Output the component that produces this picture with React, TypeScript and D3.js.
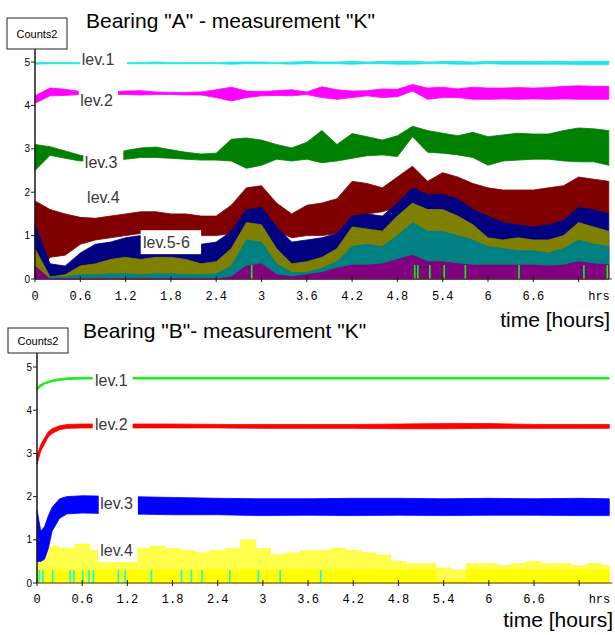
import * as d3 from "d3";

// sample times (hours) used for the envelopes
const hours = [0, 0.2, 0.4, 0.6, 0.8, 1, 1.2, 1.4, 1.6, 1.8, 2, 2.2, 2.4, 2.6, 2.8, 3, 3.2, 3.4, 3.6, 3.8, 4, 4.2, 4.4, 4.6, 4.8, 5, 5.2, 5.4, 5.6, 5.8, 6, 6.2, 6.4, 6.6, 6.8, 7, 7.2, 7.4, 7.6];
const hoursB = [0, 0.05, 0.1, 0.15, 0.2, 0.3, 0.4, 0.6, 1.2, 1.8, 2.4, 3, 3.6, 4.2, 4.8, 5.4, 6, 6.6, 7.2, 7.6];

// Bearing "A" (min / max envelopes)
const aLev1Lo = [4.95, 4.96, 4.96, 4.96, 4.96, 4.96, 4.96, 4.96, 4.96, 4.96, 4.96, 4.96, 4.96, 4.95, 4.96, 4.96, 4.96, 4.95, 4.96, 4.96, 4.96, 4.95, 4.96, 4.96, 4.95, 4.95, 4.96, 4.96, 4.95, 4.95, 4.96, 4.95, 4.95, 4.95, 4.95, 4.95, 4.94, 4.94, 4.94];
const aLev1Hi = [4.99, 4.99, 4.99, 4.99, 4.99, 4.99, 4.99, 4.99, 5.0, 4.99, 4.99, 4.99, 4.99, 5.0, 5.0, 5.0, 4.99, 5.0, 5.01, 5.0, 5.0, 5.01, 5.0, 5.01, 5.01, 5.02, 5.0, 5.01, 5.01, 5.0, 5.01, 5.01, 5.01, 5.01, 5.02, 5.01, 5.02, 5.02, 5.02];
const aLev2Lo = [4.05, 4.22, 4.23, 4.25, 4.25, 4.25, 4.25, 4.24, 4.25, 4.25, 4.24, 4.24, 4.18, 4.1, 4.18, 4.22, 4.23, 4.22, 4.25, 4.18, 4.14, 4.18, 4.22, 4.18, 4.2, 4.33, 4.14, 4.18, 4.18, 4.14, 4.14, 4.15, 4.14, 4.15, 4.14, 4.15, 4.14, 4.14, 4.14];
const aLev2Hi = [4.22, 4.4, 4.37, 4.32, 4.31, 4.31, 4.33, 4.34, 4.31, 4.3, 4.3, 4.31, 4.36, 4.42, 4.33, 4.32, 4.34, 4.36, 4.31, 4.43, 4.36, 4.33, 4.34, 4.38, 4.37, 4.48, 4.4, 4.42, 4.38, 4.42, 4.4, 4.4, 4.41, 4.4, 4.41, 4.44, 4.45, 4.44, 4.44];
const aLev3Lo = [2.5, 2.85, 2.78, 2.72, 2.72, 2.72, 2.76, 2.8, 2.8, 2.78, 2.76, 2.74, 2.74, 2.72, 2.55, 2.62, 2.76, 2.72, 2.76, 2.68, 2.72, 2.78, 2.84, 2.86, 2.82, 3.28, 2.92, 2.9, 2.86, 2.8, 2.62, 2.72, 2.74, 2.76, 2.76, 2.72, 2.7, 2.7, 2.62];
const aLev3Hi = [3.1, 3.05, 2.95, 2.85, 2.82, 2.86, 2.96, 3.02, 3.04, 2.98, 2.92, 2.88, 2.9, 3.22, 3.25, 3.2, 3.1, 3.02, 3.15, 3.42, 3.1, 3.35, 3.28, 3.2, 3.3, 3.52, 3.42, 3.36, 3.3, 3.38, 3.28, 3.32, 3.36, 3.34, 3.34, 3.42, 3.48, 3.46, 3.42];
const aLev4Lo = [0, 0.5, 0.55, 0.8, 0.9, 0.95, 1.0, 1.05, 1.05, 1.0, 1.0, 1.0, 1.0, 1.05, 1.3, 1.35, 1.1, 0.95, 1.0, 1.0, 1.05, 1.35, 1.5, 1.55, 1.65, 1.9, 1.75, 1.85, 1.75, 1.55, 1.4, 1.3, 1.25, 1.2, 1.25, 1.35, 1.6, 1.6, 1.5];
const aLev4Hi = [1.8, 1.6, 1.5, 1.42, 1.4, 1.45, 1.5, 1.55, 1.55, 1.5, 1.5, 1.45, 1.45, 1.7, 2.1, 2.15, 1.75, 1.5, 1.7, 1.75, 1.85, 2.25, 2.2, 2.1, 2.35, 2.6, 2.25, 2.45, 2.35, 2.2, 2.1, 2.05, 2.05, 2.05, 2.1, 2.15, 2.35, 2.3, 2.25];
// lev.5-6 group, filled from zero
const aNavyHi = [1.25, 0.35, 0.3, 0.6, 0.8, 0.85, 0.95, 1.0, 0.95, 0.9, 0.85, 0.8, 0.85, 1.1, 1.6, 1.65, 1.2, 0.85, 0.9, 0.95, 1.05, 1.45, 1.5, 1.45, 1.75, 2.1, 1.95, 1.95, 1.85, 1.6, 1.45, 1.3, 1.25, 1.2, 1.25, 1.35, 1.65, 1.6, 1.5];
const aOliveHi = [0.7, 0.05, 0.1, 0.3, 0.35, 0.45, 0.5, 0.45, 0.5, 0.5, 0.45, 0.35, 0.4, 0.7, 1.3, 1.25, 0.7, 0.35, 0.4, 0.5, 0.7, 1.2, 1.15, 1.1, 1.45, 1.75, 1.6, 1.6, 1.45, 1.25, 0.95, 0.9, 0.95, 0.9, 0.9, 1.0, 1.3, 1.2, 1.1];
const aTealHi = [0, 0.05, 0.05, 0.1, 0.1, 0.12, 0.12, 0.1, 0.12, 0.12, 0.1, 0.1, 0.12, 0.3, 0.9, 0.85, 0.35, 0.15, 0.15, 0.25, 0.4, 0.75, 0.8, 0.75, 1.0, 1.3, 1.1, 1.1, 1.0, 0.9, 0.75, 0.7, 0.65, 0.65, 0.6, 0.7, 0.9, 0.8, 0.75];
const aPurpleHi = [0.3, 0, 0, 0, 0, 0, 0, 0, 0, 0, 0, 0, 0, 0.05, 0.3, 0.35, 0.1, 0.05, 0.1, 0.15, 0.25, 0.32, 0.32, 0.35, 0.45, 0.55, 0.4, 0.4, 0.35, 0.32, 0.32, 0.32, 0.32, 0.32, 0.3, 0.32, 0.4, 0.35, 0.33];
const aGreenSpikes = [2.87, 5.03, 5.07, 5.23, 5.42, 5.7, 6.41, 7.27, 7.58];

// Bearing "B"
const bLev1Lo = [4.46, 4.54, 4.6, 4.63, 4.66, 4.69, 4.71, 4.72, 4.72, 4.72, 4.72, 4.72, 4.72, 4.72, 4.72, 4.72, 4.72, 4.72, 4.72, 4.72];
const bLev1Hi = [4.52, 4.6, 4.64, 4.67, 4.7, 4.73, 4.75, 4.76, 4.76, 4.76, 4.76, 4.76, 4.76, 4.76, 4.76, 4.76, 4.76, 4.76, 4.76, 4.76];
const bLev2Lo = [2.75, 3.05, 3.22, 3.38, 3.46, 3.55, 3.58, 3.59, 3.59, 3.59, 3.59, 3.58, 3.58, 3.58, 3.57, 3.57, 3.58, 3.58, 3.58, 3.58];
const bLev2Hi = [2.95, 3.2, 3.36, 3.5, 3.57, 3.64, 3.67, 3.68, 3.68, 3.68, 3.67, 3.67, 3.67, 3.67, 3.68, 3.69, 3.69, 3.67, 3.67, 3.67];
const bLev3Lo = [0.5, 0.5, 0.55, 0.8, 1.2, 1.5, 1.6, 1.62, 1.6, 1.58, 1.58, 1.56, 1.57, 1.56, 1.57, 1.56, 1.57, 1.57, 1.56, 1.56];
const bLev3Hi = [1.7, 1.2, 1.3, 1.55, 1.75, 1.95, 2.0, 2.02, 2.0, 1.98, 1.96, 1.95, 1.95, 1.96, 1.96, 1.95, 1.96, 1.95, 1.96, 1.95];
const bLev4Peak = [1.3, 0.85, 0.8, 0.9, 0.75, 0.6, 0.6, 0.8, 0.85, 0.8, 0.75, 0.7, 0.75, 0.8, 1.0, 0.8, 0.65, 0.7, 0.75, 0.75, 0.8, 0.75, 0.7, 0.65, 0.5, 0.45, 0.45, 0.35, 0.3, 0.45, 0.45, 0.4, 0.45, 0.5, 0.45, 0.45, 0.4, 0.45, 0.4];
const bLev4Base = [0.3, 0.3, 0.3, 0.3, 0.3, 0.3, 0.3, 0.3, 0.3, 0.3, 0.3, 0.3, 0.3, 0.3, 0.3, 0.3, 0.3, 0.3, 0.3, 0.3, 0.3, 0.3, 0.3, 0.3, 0.3, 0.3, 0.3, 0.05, 0.05, 0.3, 0.3, 0.3, 0.3, 0.3, 0.3, 0.3, 0.3, 0.3, 0.3];
const bCyanSpikes = [0.03, 0.08, 0.21, 0.44, 0.49, 0.61, 0.69, 0.75, 1.08, 1.17, 1.52, 1.92, 2.05, 2.19, 2.56, 2.94, 3.23, 3.77];

const xTicks = [0, 0.6, 1.2, 1.8, 2.4, 3, 3.6, 4.2, 4.8, 5.4, 6, 6.6, 7.2];
const xTickLabels = ["0", "0.6", "1.2", "1.8", "2.4", "3", "3.6", "4.2", "4.8", "5.4", "6", "6.6", ""];
const yTicks = [0, 1, 2, 3, 4, 5];

const SANS = "'Liberation Sans', Arial, sans-serif";
const MONO = "'Liberation Mono', 'Courier New', monospace";

type Layer = { t: number[]; lo?: number[]; hi: number[]; color: string; opacity?: number; step?: boolean };
type Label = { text: string; t: number; v: number; gap?: [number, number] };

type PanelProps = {
  xRange: [number, number];
  yRange: [number, number];
  axisTop: number;
  box: { x: number; y: number; w: number; h: number };
  title: string;
  titleX: number;
  titleY: number;
  timeX: number;
  timeY: number;
  tickY: number;
  layers: Layer[];
  spikes: { t: number[]; v: number; color: string };
  labels: Label[];
};

function Panel(p: PanelProps) {
  const x = d3.scaleLinear().domain([0, 7.64]).range(p.xRange);
  const y = d3.scaleLinear().domain([0, 5]).range(p.yRange);

  const pathFor = (l: Layer) =>
    d3
      .area<number>()
      .x((_, i) => x(l.t[i]))
      .y0((_, i) => (l.lo ? y(l.lo[i]) : y(0)))
      .y1((d) => y(d))
      .curve(l.step ? d3.curveStep : d3.curveLinear)(l.hi) || "";

  const x0 = x(0);
  const yBase = y(0);

  return (
    <g>
      {/* data */}
      {p.layers.map((l, i) => (
        <path key={i} d={pathFor(l)} fill={l.color} fillOpacity={l.opacity ?? 1} stroke={l.color} strokeOpacity={l.opacity ?? 1} strokeWidth={0.8} />
      ))}
      {p.spikes.t.map((t, i) => (
        <rect key={i} x={x(t) - 0.8} y={y(p.spikes.v)} width={1.6} height={yBase - y(p.spikes.v)} fill={p.spikes.color} />
      ))}

      {/* labels with white backing */}
      {p.labels.map((l, i) => (
        <g key={i}>
          {l.gap && <rect x={x(l.gap[0])} y={y(l.v) - 18} width={x(l.gap[1]) - x(l.gap[0])} height={24} fill="#fff" />}
          <text x={x(l.t)} y={y(l.v)} fontFamily={SANS} fontSize={16} fill="#383838">
            {l.text}
          </text>
        </g>
      ))}

      {/* axes */}
      <line x1={x0} x2={x0} y1={p.axisTop} y2={yBase} stroke="#1a1a1a" strokeWidth={1.5} />
      <line x1={x0} x2={p.xRange[1]} y1={yBase} y2={yBase} stroke="#5a2a2a" strokeWidth={1} />
      {yTicks.map((v) => (
        <g key={v}>
          <line x1={x0 - 4} x2={x0} y1={y(v)} y2={y(v)} stroke="#1a1a1a" strokeWidth={1} />
          <text x={x0 - 5} y={y(v) + 3.5} textAnchor="end" fontFamily={SANS} fontSize={10} fill="#000">
            {v}
          </text>
        </g>
      ))}
      {xTicks.map((t, i) => (
        <g key={t}>
          <line x1={x(t)} x2={x(t)} y1={yBase - 3} y2={yBase + 3} stroke="#1a1a1a" strokeWidth={1} />
          <text x={x(t)} y={p.tickY} textAnchor="middle" fontFamily={MONO} fontSize={12} fill="#000">
            {xTickLabels[i]}
          </text>
        </g>
      ))}
      <text x={p.xRange[1] - 2} y={p.tickY} textAnchor="end" fontFamily={MONO} fontSize={12} fill="#000">
        hrs
      </text>

      {/* unit box, title, axis title */}
      <rect x={p.box.x} y={p.box.y} width={p.box.w} height={p.box.h} fill="#fff" stroke="#222" strokeWidth={1} />
      <text x={p.box.x + p.box.w / 2} y={p.box.y + p.box.h / 2 + 4} textAnchor="middle" fontFamily={SANS} fontSize={11} fill="#000">
        Counts2
      </text>
      <text x={p.titleX} y={p.titleY} fontFamily={SANS} fontSize={21} fill="#000">
        {p.title}
      </text>
      <text x={p.timeX} y={p.timeY} textAnchor="end" fontFamily={SANS} fontSize={21} fill="#000">
        time [hours]
      </text>
    </g>
  );
}

export default function App() {
  return (
    <svg width={615} height={635} style={{ position: "absolute", left: 0, top: 0, background: "#fff" }}>
      <Panel
        xRange={[35, 35 + 7.64 * 75.5]}
        yRange={[279, 62]}
        axisTop={49}
        box={{ x: 7, y: 18, w: 60, h: 31 }}
        title={'Bearing "A" - measurement "K"'}
        titleX={86}
        titleY={28}
        timeX={610}
        timeY={327}
        tickY={300}
        layers={[
          { t: hours, lo: aLev4Lo, hi: aLev4Hi, color: "#800000" },
          { t: hours, hi: aNavyHi, color: "#000080" },
          { t: hours, hi: aOliveHi, color: "#808000" },
          { t: hours, hi: aTealHi, color: "#008080" },
          { t: hours, hi: aPurpleHi, color: "#800080" },
          { t: hours, lo: aLev3Lo, hi: aLev3Hi, color: "#008000" },
          { t: hours, lo: aLev2Lo, hi: aLev2Hi, color: "#ff00ff" },
          { t: hours, lo: aLev1Lo, hi: aLev1Hi, color: "#1ee6e6" },
        ]}
        spikes={{ t: aGreenSpikes, v: 0.32, color: "#00ff00" }}
        labels={[
          { text: "lev.1", t: 0.62, v: 4.93, gap: [0.6, 1.22] },
          { text: "lev.2", t: 0.6, v: 3.99, gap: [0.58, 1.1] },
          { text: "lev.3", t: 0.66, v: 2.55, gap: [0.64, 1.17] },
          { text: "lev.4", t: 0.69, v: 1.74 },
          { text: "lev.5-6", t: 1.43, v: 0.71, gap: [1.4, 2.2] },
        ]}
      />
      <Panel
        xRange={[37, 37 + 7.64 * 75.3]}
        yRange={[583, 367]}
        axisTop={353}
        box={{ x: 8, y: 328, w: 60, h: 25 }}
        title={'Bearing "B"- measurement "K"'}
        titleX={83}
        titleY={338}
        timeX={613}
        timeY={627}
        tickY={603}
        layers={[
          { t: hours, hi: bLev4Peak, color: "#ffff00", opacity: 0.7, step: true },
          { t: hours, hi: bLev4Base, color: "#ffff00", step: true },
          { t: hoursB, lo: bLev3Lo, hi: bLev3Hi, color: "#0000ff" },
          { t: hoursB, lo: bLev2Lo, hi: bLev2Hi, color: "#ff0000" },
          { t: hoursB, lo: bLev1Lo, hi: bLev1Hi, color: "#11ee11" },
        ]}
        spikes={{ t: bCyanSpikes, v: 0.3, color: "#00ffff" }}
        labels={[
          { text: "lev.1", t: 0.77, v: 4.57, gap: [0.74, 1.27] },
          { text: "lev.2", t: 0.77, v: 3.54, gap: [0.74, 1.27] },
          { text: "lev.3", t: 0.84, v: 1.71, gap: [0.82, 1.34] },
          { text: "lev.4", t: 0.84, v: 0.625, gap: [0.81, 1.33] },
        ]}
      />
    </svg>
  );
}
